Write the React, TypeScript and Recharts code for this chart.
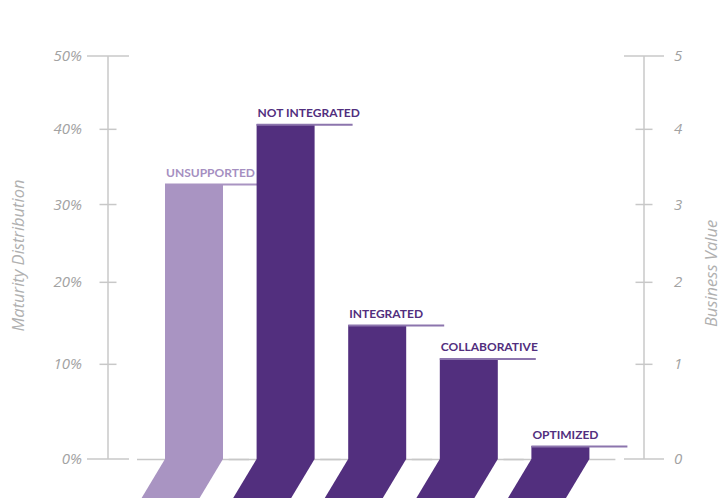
import React from 'react';
import { BarChart, Bar, XAxis, YAxis, Cell } from 'recharts';

// maturity levels, left to right
const categories = ['UNSUPPORTED', 'NOT INTEGRATED', 'INTEGRATED', 'COLLABORATIVE', 'OPTIMIZED'];
// share of respondents per level (%)
const distribution = [32.7, 40.7, 14.7, 10.7, 1.1];
const percentTicks = [0, 10, 20, 30, 40, 50];
const valueTicks = [0, 1, 2, 3, 4, 5];

const data = categories.map((name, i) => ({ name, share: distribution[i] }));

const FONT = 'Lato, "Open Sans", sans-serif';
const AXIS_FONT = '"Open Sans", Lato, sans-serif';
const GRID = '#c8c8c8';
const TICK_TEXT = '#a2a2a2';
const TITLE_TEXT = '#b0b0b0';
const DARK = { fill: '#522f7e', rule: '#8c75ad', text: '#522f7e' };
const LIGHT = { fill: '#a994c2', rule: '#a994c2', text: '#a58fc1' };
const SLANT = 24;
const DROP = 40;

// d3-like power scale (the axis in the source is slightly compressed at the top)
function powScale(exponent: number) {
  let dom: number[] = [0, 1];
  let rng: number[] = [0, 1];
  const frac = (v: number) => {
    const f = (v - dom[0]) / (dom[1] - dom[0]);
    return Math.sign(f) * Math.pow(Math.abs(f), exponent);
  };
  const scale: any = (v: number) => rng[0] + (rng[1] - rng[0]) * frac(Number(v));
  scale.domain = (d?: any[]) => {
    if (d === undefined) return dom.slice();
    dom = d.map(Number);
    return scale;
  };
  scale.range = (r?: any[]) => {
    if (r === undefined) return rng.slice();
    rng = r.map(Number);
    return scale;
  };
  scale.invert = (p: number) => {
    const f = (p - rng[0]) / (rng[1] - rng[0]);
    const g = Math.sign(f) * Math.pow(Math.abs(f), 1 / exponent);
    return dom[0] + g * (dom[1] - dom[0]);
  };
  scale.ticks = (n = 10) => {
    const step = (dom[1] - dom[0]) / n;
    const out: number[] = [];
    for (let i = 0; i <= n; i++) out.push(dom[0] + step * i);
    return out;
  };
  scale.tickFormat = () => (v: number) => String(v);
  scale.nice = () => scale;
  scale.clamp = () => scale;
  scale.unknown = () => scale;
  scale.copy = () => powScale(exponent).domain(dom).range(rng);
  return scale;
}

const leftScale = powScale(0.9);
const rightScale = powScale(0.9);

const LeftTick = (props: any) => {
  const { x, y, payload, index } = props;
  const long = index === 0 || index === percentTicks.length - 1;
  const half = long ? 21 : 8.5;
  return (
    <g>
      <line x1={x - half} x2={x + half} y1={y} y2={y} stroke={GRID} strokeWidth={1.5} />
      <text x={x - 26} y={y + 5} textAnchor="end" fontFamily={AXIS_FONT} fontStyle="italic" fontSize={15} fill={TICK_TEXT}>
        {`${payload.value}%`}
      </text>
    </g>
  );
};

const RightTick = (props: any) => {
  const { x, y, payload, index } = props;
  const long = index === 0 || index === valueTicks.length - 1;
  const half = long ? 20 : 8.5;
  return (
    <g>
      <line x1={x - half} x2={x + half} y1={y} y2={y} stroke={GRID} strokeWidth={1.5} />
      <text x={x + 30} y={y + 5} textAnchor="start" fontFamily={AXIS_FONT} fontStyle="italic" fontSize={15} fill={TICK_TEXT}>
        {payload.value}
      </text>
    </g>
  );
};

const AxisTitle = ({ viewBox, value, dx, dy }: any) => {
  const cx = viewBox.x + dx;
  const cy = viewBox.y + viewBox.height / 2 + dy;
  return (
    <text
      x={cx}
      y={cy}
      transform={`rotate(-90 ${cx} ${cy})`}
      textAnchor="middle"
      dominantBaseline="central"
      fontFamily={AXIS_FONT}
      fontStyle="italic"
      fontSize={16.5}
      fill={TITLE_TEXT}
    >
      {value}
    </text>
  );
};

const SlantedBar = (props: any) => {
  const { x, y, width, height, index, payload } = props;
  const c = index === 0 ? LIGHT : DARK;
  const base = y + height;
  return (
    <g>
      <line x1={x - 28} x2={x + width + 26} y1={base + 0.5} y2={base + 0.5} stroke={GRID} strokeWidth={1.5} />
      <rect x={x} y={y} width={width} height={height} fill={c.fill} />
      <polygon
        points={`${x},${base} ${x + width},${base} ${x + width - SLANT},${base + DROP} ${x - SLANT},${base + DROP}`}
        fill={c.fill}
      />
      <line x1={x} x2={x + 96} y1={y + 0.5} y2={y + 0.5} stroke={c.rule} strokeWidth={2} />
      <text x={x + 1} y={y - 7} fontFamily={FONT} fontWeight={700} fontSize={12} fill={c.text}>
        {payload.name}
      </text>
    </g>
  );
};

export default function App() {
  return (
    <div style={{ position: 'absolute', left: 0, top: 0, background: '#fff' }}>
      <BarChart width={721} height={498} data={data} margin={{ top: 56, right: 0, bottom: 39, left: 0 }}>
        <XAxis dataKey="name" hide padding={{ left: 40, right: 38 }} />
        <YAxis
          yAxisId="left"
          type="number"
          domain={[0, 50]}
          ticks={percentTicks}
          scale={leftScale}
          width={108}
          tickSize={0}
          tickMargin={0}
          tickLine={false}
          axisLine={{ stroke: GRID, strokeWidth: 1.5 }}
          tick={<LeftTick />}
          interval={0}
          label={<AxisTitle value="Maturity Distribution" dx={17} dy={-2} />}
        />
        <YAxis
          yAxisId="right"
          orientation="right"
          type="number"
          domain={[0, 5]}
          allowDataOverflow
          ticks={valueTicks}
          scale={rightScale}
          width={77}
          tickSize={0}
          tickMargin={0}
          tickLine={false}
          axisLine={{ stroke: GRID, strokeWidth: 1.5 }}
          tick={<RightTick />}
          interval={0}
          label={<AxisTitle value="Business Value" dx={66} dy={16} />}
        />
        <Bar yAxisId="left" dataKey="share" barSize={58} shape={<SlantedBar />} isAnimationActive={false}>
          {data.map((d, i) => (
            <Cell key={d.name} fill={i === 0 ? LIGHT.fill : DARK.fill} />
          ))}
        </Bar>
      </BarChart>
    </div>
  );
}
